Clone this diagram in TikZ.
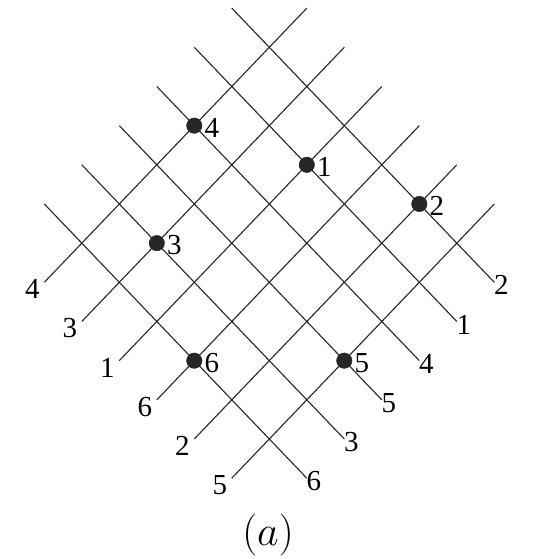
\documentclass[tikz,border=0pt]{standalone}
\usepackage{fix-cm}
\usepackage[no-math]{fontspec}
\newfontfamily\numfont{Liberation Serif}
\begin{document}
\begin{tikzpicture}[x=1pt,y=-1pt,
  gridline/.style={draw=black!85,line width=1.1pt},
  dotmark/.style={circle,fill=black!85,draw=black!85,minimum size=15.5pt,inner sep=0pt},
  numlab/.style={font=\fontsize{29}{33}\numfont\selectfont,inner sep=0pt,text=black}]
\useasboundingbox (0,0) rectangle (546,559);
% "/" lines (lower-left to upper-right), index a; "\" lines index b
\foreach \a/\t in {0/4,1/3,2/1,3/6,4/2,5/5}{
  \coordinate (st\a) at ({269.3+37.5*(\a+1)},{47.3+39.17*(\a-1)});
  \coordinate (sb\a) at ({269.3+37.5*(\a-6)},{47.3+39.17*(\a+6)});
  \draw[gridline] (st\a) -- (sb\a);
  \node[numlab] (sl\a) at ([shift={(-12,7)}]sb\a) {\t};
}
\foreach \b/\t in {0/2,1/1,2/4,3/5,4/3,5/6}{
  \coordinate (bt\b) at ({269.3-37.5*(\b+1)},{47.3+39.17*(\b-1)});
  \coordinate (bb\b) at ({269.3+37.5*(6-\b)},{47.3+39.17*(6+\b)});
  \draw[gridline] (bt\b) -- (bb\b);
  \node[numlab] (bl\b) at ([shift={(7,3)}]bb\b) {\t};
}
% marked intersections (a,b,label)
\foreach \a/\b/\t in {0/2/4,2/1/1,4/0/2,1/4/3,3/5/6,5/3/5}{
  \node[dotmark] (d\t) at ({269.3+37.5*(\a-\b)},{47.3+39.17*(\a+\b)}) {};
  \node[numlab,anchor=west] (dl\t) at ([shift={(10,2)}]d\t.center) {\t};
}
\node[font=\fontsize{42}{46}\selectfont] (cap) at (268,535) {$(a)$};
\end{tikzpicture}
\end{document}
